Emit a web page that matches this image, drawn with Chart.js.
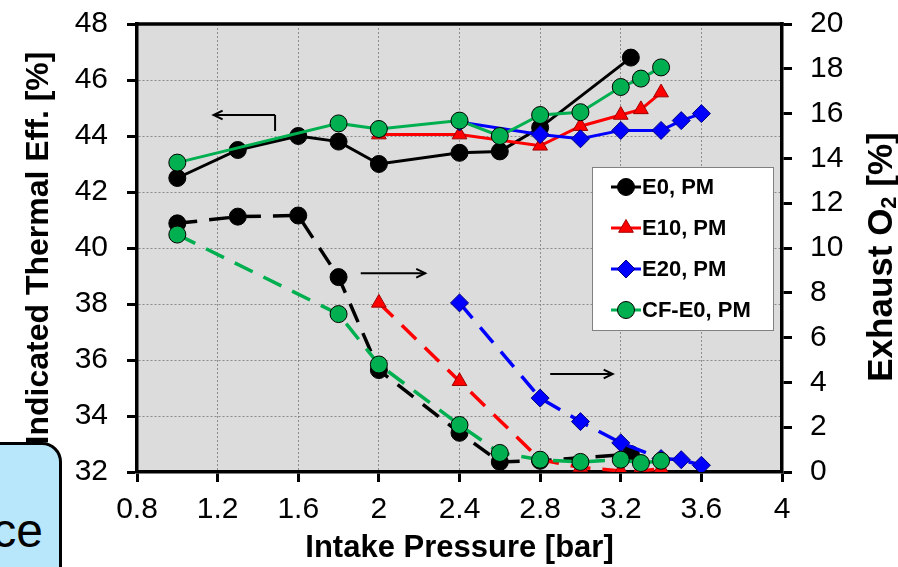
<!DOCTYPE html>
<html>
<head>
<meta charset="utf-8">
<script src="https://cdn.jsdelivr.net/npm/chart.js@4.4.1/dist/chart.umd.min.js"></script>
<style>
  html, body { margin: 0; padding: 0; background: #fff; }
  #wrap { position: relative; width: 898px; height: 567px; overflow: hidden; }
  #c { position: absolute; left: 0; top: 0; }
  #tag {
    position: absolute; left: -6px; top: 442px; width: 68px; height: 150px;
    background: #b8e6fb; border: 3px solid #000; border-top-right-radius: 20px;
    box-sizing: border-box; font: 48px 'Liberation Sans', Arial, sans-serif; color: #000;
  }
  #tag span { position: absolute; right: 16px; top: 62px; line-height: 48px; }
</style>
</head>
<body>
<div id="wrap">
  <canvas id="c" width="898" height="567"></canvas>
  <div id="tag"><span>ce</span></div>
</div>
<script>
const FONT = "'Liberation Sans', Arial, Helvetica, sans-serif";

// x axis
const X_TICKS = [0.8, 1.2, 1.6, 2.0, 2.4, 2.8, 3.2, 3.6, 4.0];
const X_TICK_LABELS = ['0.8', '1.2', '1.6', '2', '2.4', '2.8', '3.2', '3.6', '4'];

// E0, PM
const e0X   = [1.0, 1.3, 1.6, 1.8, 2.0, 2.4, 2.6, 2.8, 3.25];
const e0Eff = [42.5, 43.5, 44.0, 43.8, 43.0, 43.4, 43.45, 44.3, 46.8];
const e0O2  = [11.1, 11.4, 11.45, 8.7, 4.55, 1.75, 0.45, 0.5, 0.8];

// E10, PM
const e10X   = [2.0, 2.4, 2.8, 3.0, 3.2, 3.3, 3.4];
const e10Eff = [44.05, 44.05, 43.65, 44.35, 44.75, 44.95, 45.55];
const e10O2  = [7.55, 4.05, 0.55, 0.2, 0.05, 0.05, 0.15];

// E20, PM
const e20X   = [2.4, 2.8, 3.0, 3.2, 3.4, 3.5, 3.6];
const e20Eff = [44.5, 44.05, 43.9, 44.2, 44.2, 44.55, 44.8];
const e20O2  = [7.55, 3.3, 2.25, 1.3, 0.6, 0.55, 0.3];

// CF-E0, PM
const cfX   = [1.0, 1.8, 2.0, 2.4, 2.6, 2.8, 3.0, 3.2, 3.3, 3.4];
const cfEff = [43.05, 44.45, 44.25, 44.55, 44.0, 44.75, 44.85, 45.75, 46.05, 46.45];
const cfO2  = [10.6, 7.05, 4.8, 2.1, 0.85, 0.55, 0.45, 0.55, 0.4, 0.5];

// arrows pointing at the axis each family belongs to (left-axis values)
const ARROWS = [
  { from: [1.485, 44.75], to: [1.18, 44.75], stem: [1.485, 44.18] },
  { from: [1.91, 39.1],  to: [2.23, 39.1] },
  { from: [2.85, 35.5],  to: [3.16, 35.5] }
];

Chart.defaults.font.family = FONT;
Chart.defaults.color = '#000';

function series(label, xs, ys, color, marker, edge, axis, dashed, order) {
  return {
    label,
    data: xs.map((x, i) => ({ x, y: ys[i] })),
    yAxisID: axis,
    borderColor: color,
    backgroundColor: color,
    borderWidth: dashed ? 3.5 : 3,
    borderDash: dashed ? [20, 12] : [],
    pointStyle: marker,
    pointRadius: marker === 'rectRot' ? 9 : 8.5,
    pointBackgroundColor: color,
    pointBorderColor: edge,
    pointBorderWidth: 1,
    tension: 0,
    order,
    _legend: !dashed
  };
}

const datasets = [
  series('E0, PM',    e0X,  e0Eff,  '#000000', 'circle',   '#000',    'yL', false, 6),
  series('E10, PM',   e10X, e10Eff, '#ff0000', 'triangle', '#a00000', 'yL', false, 4),
  series('E20, PM',   e20X, e20Eff, '#0000ff', 'rectRot',  '#000080', 'yL', false, 2),
  series('CF-E0, PM', cfX,  cfEff,  '#00b050', 'circle',   '#000',    'yL', false, 0),
  series('E0 O2',     e0X,  e0O2,   '#000000', 'circle',   '#000',    'yR', true, 7),
  series('E10 O2',    e10X, e10O2,  '#ff0000', 'triangle', '#a00000', 'yR', true, 5),
  series('E20 O2',    e20X, e20O2,  '#0000ff', 'rectRot',  '#000080', 'yR', true, 3),
  series('CF-E0 O2',  cfX,  cfO2,   '#00b050', 'circle',   '#000',    'yR', true, 1)
];

function drawMarker(ctx, style, x, y, r, fill, edge) {
  ctx.beginPath();
  if (style === 'circle') {
    ctx.arc(x, y, r, 0, Math.PI * 2);
  } else if (style === 'triangle') {
    let rad = 0;
    ctx.moveTo(x + Math.sin(rad) * r, y - Math.cos(rad) * r);
    rad += Math.PI * 2 / 3;
    ctx.lineTo(x + Math.sin(rad) * r, y - Math.cos(rad) * r);
    rad += Math.PI * 2 / 3;
    ctx.lineTo(x + Math.sin(rad) * r, y - Math.cos(rad) * r);
    ctx.closePath();
  } else {
    ctx.moveTo(x, y - r); ctx.lineTo(x + r, y); ctx.lineTo(x, y + r); ctx.lineTo(x - r, y);
    ctx.closePath();
  }
  ctx.fillStyle = fill; ctx.fill();
  ctx.lineWidth = 1; ctx.strokeStyle = edge; ctx.stroke();
}

function arrowHead(ctx, x0, y0, x1, y1) {
  const ang = Math.atan2(y1 - y0, x1 - x0), len = 10, spread = 0.45;
  ctx.beginPath();
  ctx.moveTo(x1 - len * Math.cos(ang - spread), y1 - len * Math.sin(ang - spread));
  ctx.lineTo(x1, y1);
  ctx.lineTo(x1 - len * Math.cos(ang + spread), y1 - len * Math.sin(ang + spread));
  ctx.stroke();
}

const decor = {
  id: 'decor',
  beforeDraw(chart) {
    const { ctx, chartArea: a } = chart;
    ctx.save();
    ctx.fillStyle = '#dcdcdc';
    ctx.fillRect(a.left, a.top, a.right - a.left, a.bottom - a.top);
    ctx.restore();
  },
  afterDraw(chart) {
    const { ctx, chartArea: a, scales } = chart;
    const sx = scales.x, sy = scales.yL;
    ctx.save();

    // top frame line
    ctx.strokeStyle = '#000'; ctx.lineWidth = 3.5;
    ctx.beginPath(); ctx.moveTo(a.left - 1.75, a.top); ctx.lineTo(a.right + 1.75, a.top); ctx.stroke();

    // arrows
    ctx.lineWidth = 2; ctx.strokeStyle = '#000';
    ARROWS.forEach(ar => {
      const x0 = sx.getPixelForValue(ar.from[0]), y0 = sy.getPixelForValue(ar.from[1]);
      const x1 = sx.getPixelForValue(ar.to[0]),   y1 = sy.getPixelForValue(ar.to[1]);
      ctx.beginPath(); ctx.moveTo(x0, y0); ctx.lineTo(x1, y1); ctx.stroke();
      arrowHead(ctx, x0, y0, x1, y1);
      if (ar.stem) {
        ctx.beginPath(); ctx.moveTo(x0, y0);
        ctx.lineTo(sx.getPixelForValue(ar.stem[0]), sy.getPixelForValue(ar.stem[1]));
        ctx.stroke();
      }
    });

    // legend
    const lx = a.right - 190, ly = a.top + 143, lw = 181, lh = 163;
    ctx.fillStyle = '#fff'; ctx.fillRect(lx, ly, lw, lh);
    ctx.lineWidth = 1; ctx.strokeStyle = '#808080'; ctx.strokeRect(lx + 0.5, ly + 0.5, lw, lh);
    ctx.font = 'bold 22px ' + FONT; ctx.textBaseline = 'middle'; ctx.textAlign = 'left';
    chart.data.datasets.filter(d => d._legend).forEach((d, i) => {
      const y = ly + 20 + i * 41;
      ctx.strokeStyle = d.borderColor; ctx.lineWidth = 3;
      ctx.beginPath(); ctx.moveTo(lx + 19, y); ctx.lineTo(lx + 49, y); ctx.stroke();
      drawMarker(ctx, d.pointStyle, lx + 34, y, d.pointRadius, d.pointBackgroundColor, d.pointBorderColor);
      ctx.fillStyle = '#000';
      ctx.fillText(d.label, lx + 50, y + 1);
    });

    // right axis title, reading upwards, with subscript
    ctx.translate(882, 257); ctx.rotate(-Math.PI / 2);
    const big = 'bold 35px ' + FONT, small = 'bold 22px ' + FONT;
    const parts = [['Exhaust O', big, 0], ['2', small, 8], [' [%]', big, 0]];
    let total = 0;
    parts.forEach(p => { ctx.font = p[1]; total += ctx.measureText(p[0]).width; });
    let x = -total / 2;
    ctx.fillStyle = '#000'; ctx.textBaseline = 'middle';
    parts.forEach(p => { ctx.font = p[1]; ctx.fillText(p[0], x, p[2]); x += ctx.measureText(p[0]).width; });
    ctx.restore();
  }
};

const gridStyle = { color: '#8c8c8c', lineWidth: 1, drawTicks: true, tickLength: 10, tickColor: '#000', tickWidth: 3 };

// pin the y axes widths and drop the extra label padding so the plot frame sits where it should
const fitY = w => s => { s.width = w; s.paddingTop = 17; s.paddingBottom = 17; };

new Chart(document.getElementById('c'), {
  type: 'line',
  data: { datasets },
  options: {
    responsive: false,
    animation: false,
    devicePixelRatio: 1,
    layout: { padding: { top: 24, left: 0, right: 0, bottom: 0 } },
    plugins: { legend: { display: false }, tooltip: { enabled: false } },
    scales: {
      x: {
        type: 'linear', min: 0.8, max: 4,
        afterBuildTicks: s => { s.ticks = X_TICKS.map(v => ({ value: v })); },
        afterFit: s => { s.height = 95; },
        ticks: { callback: (v, i) => X_TICK_LABELS[i], font: { size: 30 }, color: '#000', padding: 10, maxRotation: 0, autoSkip: false },
        grid: gridStyle,
        border: { display: true, color: '#000', width: 3.5, dash: [2, 2] },
        title: { display: true, text: 'Intake Pressure [bar]', color: '#000', font: { size: 31, weight: 'bold' }, padding: { top: 0, bottom: 0 } }
      },
      yL: {
        type: 'linear', position: 'left', min: 32, max: 48,
        afterFit: fitY(137),
        ticks: { stepSize: 2, font: { size: 30 }, color: '#000', padding: 19 },
        grid: gridStyle,
        border: { display: true, color: '#000', width: 3.5, dash: [2, 2] },
        title: { display: true, text: 'Indicated Thermal Eff. [%]', color: '#000', font: { size: 32, weight: 'bold' }, padding: { top: 20, bottom: 0 } }
      },
      yR: {
        type: 'linear', position: 'right', min: 0, max: 20,
        afterFit: fitY(116),
        ticks: { stepSize: 2, font: { size: 30 }, color: '#000', padding: 18 },
        grid: Object.assign({}, gridStyle, { drawOnChartArea: false }),
        border: { display: true, color: '#000', width: 3.5 }
      }
    }
  },
  plugins: [decor]
});
</script>
</body>
</html>
